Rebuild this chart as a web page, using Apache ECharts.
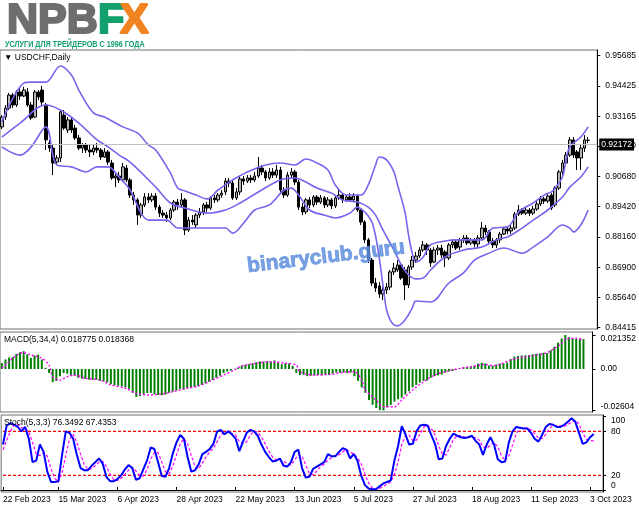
<!DOCTYPE html>
<html>
<head>
<meta charset="utf-8">
<script src="https://cdn.jsdelivr.net/npm/echarts@6/dist/echarts.min.js"></script>
<style>
html,body{margin:0;padding:0;background:#fff}
#chart{width:639px;height:508px}
</style>
</head>
<body>
<div id="chart"></div>
<script>
// USDCHF daily, 22 Feb 2023 .. 4 Oct 2023
var opens = [
  0.9273,0.9314,0.9351,0.9405,0.9364,0.9418,0.9401,0.9418,0.9364,0.9314,
  0.9418,0.9426,0.9364,0.9206,0.9185,0.9127,0.9144,0.9322,0.9260,0.9302,
  0.9268,0.9227,0.9185,0.9198,0.9177,0.9169,0.9185,0.9177,0.9148,0.9169,
  0.9123,0.9061,0.9069,0.9053,0.9102,0.9053,0.8990,0.8970,0.8907,0.8949,
  0.8982,0.8970,0.8986,0.8940,0.8915,0.8907,0.8895,0.8928,0.8961,0.8949,
  0.8970,0.8845,0.8886,0.8866,0.8907,0.8920,0.8949,0.8936,0.8978,0.8970,
  0.8990,0.9003,0.9048,0.9040,0.8978,0.9003,0.9057,0.9048,0.9061,0.9053,
  0.9069,0.9102,0.9086,0.9061,0.9086,0.9073,0.9094,0.9011,0.8990,0.9073,
  0.9086,0.9044,0.8940,0.8920,0.8970,0.8949,0.8982,0.8961,0.8978,0.8949,
  0.8970,0.8945,0.8978,0.8990,0.8970,0.8982,0.8970,0.8986,0.8928,0.8878,
  0.8804,0.8720,0.8625,0.8613,0.8579,0.8596,0.8608,0.8671,0.8679,0.8700,
  0.8679,0.8617,0.8691,0.8720,0.8737,0.8762,0.8783,0.8762,0.8712,0.8762,
  0.8770,0.8754,0.8729,0.8783,0.8795,0.8774,0.8804,0.8812,0.8791,0.8804,
  0.8787,0.8812,0.8853,0.8837,0.8799,0.8783,0.8804,0.8828,0.8849,0.8841,
  0.8853,0.8911,0.8928,0.8915,0.8928,0.8915,0.8932,0.8953,0.8974,0.8965,
  0.8990,0.8949,0.9019,0.9086,0.9123,0.9156,0.9219,0.9169,0.9144,0.9185,
  0.9218
];
var closes = [
  0.9314,0.9351,0.9405,0.9364,0.9418,0.9401,0.9426,0.9364,0.9310,0.9418,
  0.9397,0.9376,0.9219,0.9185,0.9123,0.9144,0.9335,0.9268,0.9302,0.9260,
  0.9227,0.9185,0.9198,0.9177,0.9169,0.9185,0.9177,0.9148,0.9169,0.9127,
  0.9061,0.9069,0.9053,0.9107,0.9053,0.8990,0.8970,0.8907,0.8949,0.8982,
  0.8970,0.8986,0.8940,0.8915,0.8907,0.8895,0.8928,0.8961,0.8949,0.8970,
  0.8845,0.8886,0.8878,0.8907,0.8920,0.8949,0.8936,0.8978,0.8970,0.8990,
  0.8998,0.9048,0.9040,0.8978,0.9003,0.9057,0.9048,0.9061,0.9053,0.9069,
  0.9102,0.9086,0.9061,0.9086,0.9073,0.9094,0.9011,0.8990,0.9073,0.9086,
  0.9044,0.8940,0.8920,0.8970,0.8949,0.8982,0.8961,0.8978,0.8949,0.8970,
  0.8945,0.8978,0.8990,0.8970,0.8982,0.8970,0.8986,0.8928,0.8878,0.8804,
  0.8720,0.8625,0.8604,0.8579,0.8596,0.8608,0.8671,0.8687,0.8700,0.8646,
  0.8617,0.8691,0.8720,0.8737,0.8762,0.8783,0.8762,0.8708,0.8762,0.8770,
  0.8741,0.8729,0.8783,0.8795,0.8770,0.8804,0.8812,0.8791,0.8804,0.8787,
  0.8812,0.8853,0.8837,0.8799,0.8783,0.8804,0.8828,0.8849,0.8841,0.8853,
  0.8911,0.8928,0.8915,0.8928,0.8915,0.8932,0.8953,0.8974,0.8965,0.8986,
  0.8936,0.9019,0.9086,0.9123,0.9156,0.9219,0.9156,0.9144,0.9185,0.9219,
  0.9217
];
var lows = [
  0.9264,0.9302,0.9343,0.9351,0.9356,0.9385,0.9397,0.9356,0.9302,0.9310,
  0.9385,0.9364,0.9177,0.9169,0.9073,0.9115,0.9127,0.9260,0.9248,0.9248,
  0.9219,0.9177,0.9165,0.9165,0.9148,0.9156,0.9165,0.9136,0.9144,0.9115,
  0.9053,0.9023,0.9040,0.9044,0.9044,0.8978,0.8949,0.8866,0.8895,0.8940,
  0.8957,0.8961,0.8928,0.8899,0.8895,0.8878,0.8886,0.8920,0.8928,0.8940,
  0.8824,0.8837,0.8866,0.8853,0.8895,0.8907,0.8920,0.8928,0.8957,0.8961,
  0.8978,0.8990,0.9023,0.8970,0.8970,0.8990,0.9032,0.9040,0.9040,0.9044,
  0.9061,0.9073,0.9048,0.9053,0.9061,0.9061,0.8998,0.8978,0.8982,0.9061,
  0.9032,0.8928,0.8907,0.8911,0.8936,0.8940,0.8949,0.8953,0.8936,0.8940,
  0.8932,0.8936,0.8970,0.8957,0.8961,0.8961,0.8965,0.8920,0.8866,0.8791,
  0.8708,0.8613,0.8588,0.8563,0.8554,0.8579,0.8596,0.8658,0.8671,0.8638,
  0.8554,0.8604,0.8679,0.8708,0.8729,0.8754,0.8741,0.8691,0.8708,0.8741,
  0.8729,0.8691,0.8720,0.8770,0.8762,0.8762,0.8791,0.8783,0.8783,0.8774,
  0.8774,0.8804,0.8824,0.8791,0.8770,0.8770,0.8791,0.8824,0.8828,0.8828,
  0.8845,0.8903,0.8907,0.8907,0.8903,0.8907,0.8924,0.8945,0.8953,0.8957,
  0.8928,0.8940,0.9011,0.9073,0.9115,0.9148,0.9144,0.9094,0.9094,0.9169,
  0.9206
];
var highs = [
  0.9322,0.9364,0.9414,0.9414,0.9426,0.9434,0.9439,0.9434,0.9376,0.9426,
  0.9426,0.9443,0.9372,0.9219,0.9198,0.9156,0.9343,0.9343,0.9314,0.9314,
  0.9281,0.9239,0.9206,0.9206,0.9198,0.9198,0.9206,0.9185,0.9185,0.9177,
  0.9136,0.9086,0.9086,0.9123,0.9115,0.9061,0.9003,0.8978,0.8957,0.8998,
  0.8998,0.8998,0.8998,0.8949,0.8928,0.8920,0.8936,0.8970,0.8974,0.8998,
  0.8978,0.8899,0.8907,0.8915,0.8936,0.8957,0.8961,0.8986,0.8990,0.8998,
  0.9011,0.9061,0.9061,0.9053,0.9019,0.9069,0.9069,0.9073,0.9073,0.9086,
  0.9148,0.9115,0.9094,0.9102,0.9102,0.9115,0.9107,0.9023,0.9086,0.9102,
  0.9094,0.9053,0.8957,0.8978,0.8982,0.8990,0.8990,0.8990,0.8986,0.8982,
  0.8978,0.8990,0.9019,0.8998,0.8990,0.8998,0.8998,0.8990,0.8936,0.8886,
  0.8812,0.8729,0.8646,0.8629,0.8608,0.8625,0.8679,0.8708,0.8720,0.8712,
  0.8691,0.8700,0.8737,0.8754,0.8774,0.8799,0.8791,0.8770,0.8774,0.8783,
  0.8783,0.8762,0.8791,0.8804,0.8804,0.8812,0.8824,0.8824,0.8812,0.8812,
  0.8824,0.8878,0.8866,0.8845,0.8812,0.8812,0.8837,0.8858,0.8858,0.8866,
  0.8920,0.8949,0.8936,0.8940,0.8936,0.8945,0.8965,0.8986,0.8982,0.8994,
  0.8998,0.9027,0.9094,0.9136,0.9169,0.9231,0.9231,0.9177,0.9198,0.9239,
  0.9231
];

// Bollinger bands, [bar index, price]
var bbUpper = [
  [0,0.9293],[6,0.9455],[8,0.9459],[12,0.9459],[16,0.9526],[19,0.9488],[21,0.9426],
  [25,0.9331],[28,0.9314],[33,0.9273],[37,0.9248],[40,0.9198],[42,0.9177],[46,0.9082],
  [48,0.9019],[50,0.9007],[53,0.8990],[56,0.8974],[59,0.9011],[61,0.9032],[63,0.9053],
  [67,0.9086],[72,0.9115],[76,0.9123],[80,0.9115],[83,0.9140],[86,0.9123],[89,0.9094],
  [91,0.9032],[94,0.8990],[98,0.8990],[100,0.9032],[102,0.9115],[103,0.9148],[105,0.9136],
  [107,0.9086],[108,0.9032],[110,0.8920],[111,0.8824],[112,0.8749],[113,0.8712],[115,0.8733],
  [117,0.8783],[121,0.8799],[124,0.8804],[131,0.8804],[134,0.8853],[138,0.8858],[141,0.8920],
  [145,0.8957],[148,0.8990],[150,0.9003],[151,0.9019],[153,0.9065],[154,0.9136],[155,0.9190],
  [158,0.9231],[160,0.9273]
];
var bbMiddle = [
  [0,0.9231],[5,0.9289],[12,0.9364],[16,0.9343],[21,0.9289],[26,0.9219],[29,0.9190],
  [32,0.9156],[35,0.9127],[42,0.9023],[46,0.8957],[50,0.8936],[56,0.8915],[61,0.8928],
  [65,0.8957],[70,0.9003],[76,0.9053],[80,0.9061],[83,0.9044],[86,0.9019],[90,0.8998],
  [93,0.8970],[97,0.8961],[100,0.8940],[102,0.8907],[104,0.8845],[107,0.8762],[109,0.8700],
  [111,0.8658],[113,0.8642],[115,0.8646],[117,0.8679],[121,0.8733],[126,0.8762],[131,0.8774],
  [135,0.8804],[138,0.8816],[142,0.8853],[145,0.8886],[149,0.8928],[153,0.8982],[155,0.9023],
  [158,0.9065],[160,0.9107]
];
var bbLower = [
  [0,0.9190],[5,0.9156],[8,0.9190],[12,0.9273],[15,0.9115],[19,0.9107],[23,0.9086],
  [26,0.9107],[29,0.9107],[32,0.9065],[35,0.9011],[38,0.8915],[40,0.8886],[45,0.8886],
  [48,0.8853],[52,0.8853],[61,0.8853],[63,0.8832],[66,0.8874],[69,0.8928],[73,0.8949],
  [77,0.9011],[79,0.9019],[81,0.8990],[84,0.8928],[88,0.8907],[91,0.8895],[95,0.8915],
  [97,0.8940],[99,0.8920],[100,0.8903],[101,0.8878],[102,0.8820],[103,0.8729],[104,0.8617],
  [105,0.8513],[106,0.8471],[107,0.8451],[108,0.8447],[110,0.8471],[112,0.8521],[113,0.8550],
  [117,0.8546],[122,0.8625],[126,0.8667],[129,0.8720],[133,0.8749],[137,0.8770],[142,0.8749],
  [145,0.8774],[149,0.8816],[153,0.8866],[155,0.8853],[156,0.8837],[158,0.8866],[160,0.8928]
];

// MACD(5,34,4)
var macdHist = [
  0.0038,0.0060,0.0072,0.0075,0.0095,0.0105,0.0112,0.0092,0.0070,0.0085,
  0.0090,0.0060,0.0008,-0.0025,-0.0082,-0.0075,-0.0045,-0.0025,-0.0030,-0.0038,
  -0.0042,-0.0055,-0.0060,-0.0062,-0.0066,-0.0068,-0.0068,-0.0075,-0.0078,-0.0084,
  -0.0095,-0.0102,-0.0105,-0.0110,-0.0115,-0.0125,-0.0150,-0.0176,-0.0170,-0.0158,
  -0.0151,-0.0150,-0.0158,-0.0163,-0.0165,-0.0160,-0.0150,-0.0142,-0.0136,-0.0125,
  -0.0130,-0.0122,-0.0118,-0.0112,-0.0108,-0.0100,-0.0090,-0.0080,-0.0070,-0.0055,
  -0.0042,-0.0025,-0.0015,-0.0010,0.0002,0.0010,0.0022,0.0026,0.0030,0.0036,
  0.0042,0.0048,0.0046,0.0050,0.0048,0.0054,0.0040,0.0030,0.0036,0.0034,
  0.0020,-0.0025,-0.0038,-0.0036,-0.0045,-0.0042,-0.0040,-0.0038,-0.0040,-0.0036,
  -0.0038,-0.0030,-0.0022,-0.0024,-0.0022,-0.0024,-0.0022,-0.0045,-0.0075,-0.0115,
  -0.0150,-0.0195,-0.0225,-0.0245,-0.0258,-0.0260,-0.0240,-0.0225,-0.0205,-0.0190,
  -0.0180,-0.0160,-0.0140,-0.0115,-0.0100,-0.0085,-0.0075,-0.0072,-0.0055,-0.0045,
  -0.0040,-0.0035,-0.0022,-0.0015,-0.0012,-0.0004,0.0004,0.0012,0.0014,0.0016,
  0.0020,0.0034,0.0040,0.0035,0.0022,0.0020,0.0028,0.0034,0.0036,0.0040,
  0.0062,0.0078,0.0082,0.0085,0.0086,0.0088,0.0092,0.0096,0.0098,0.0102,
  0.0100,0.0118,0.0140,0.0165,0.0192,0.0214,0.0200,0.0192,0.0190,0.0192,
  0.018775
];
var macdSignal = [
  [0,0.0004],[1,0.0025],[3,0.0067],[5,0.0099],[6,0.0102],[8,0.0088],[11,0.0067],
  [13,0.0025],[14,-0.0048],[16,-0.0069],[18,-0.0048],[20,-0.0038],[23,-0.0058],[27,-0.0069],
  [30,-0.0100],[34,-0.0121],[37,-0.0153],[40,-0.0163],[44,-0.0157],[47,-0.0143],[51,-0.0121],
  [54,-0.0107],[58,-0.0069],[61,-0.0038],[64,-0.0006],[66,0.0019],[70,0.0036],[74,0.0046],
  [78,0.0036],[81,0.0025],[82,-0.0017],[86,-0.0038],[91,-0.0031],[95,-0.0017],[97,-0.0017],
  [99,-0.0069],[100,-0.0132],[103,-0.0195],[105,-0.0237],[108,-0.0237],[110,-0.0195],[113,-0.0132],
  [116,-0.0080],[119,-0.0038],[123,-0.0011],[126,0.0004],[129,0.0014],[133,0.0029],[135,0.0021],
  [137,0.0029],[140,0.0057],[144,0.0077],[147,0.0088],[150,0.0102],[152,0.0130],[154,0.0161],
  [155,0.0187],[158,0.0193],[160,0.018368]
];

// Stoch(5,3,3)
var stochMain = [
  62,88,91,89,86,80,86,70,38,40,
  62,52,25,11,11,12,48,80,78,70,
  48,30,27,27,33,38,43,36,18,12,
  12,15,20,28,34,30,14,16,28,40,
  58,56,38,19,18,30,50,65,75,70,
  45,25,27,35,49,52,56,63,80,82,
  76,80,76,70,53,66,78,82,80,74,
  62,52,45,39,40,43,33,32,38,52,
  55,30,17,18,29,32,35,38,49,46,
  46,52,57,55,43,49,40,20,7,2,
  1,1,5,9,11,13,40,60,87,76,
  62,63,80,88,89,88,75,63,42,43,
  60,70,77,74,72,71,72,74,67,62,
  48,62,72,62,42,38,39,65,80,86,
  85,84,84,78,70,66,75,86,90,89,
  86,86,89,93,98,93,78,63,65,72,
  76.3492
];
var stochSignal = [
  55,68,80,89,89,85,84,79,65,49,
  47,51,46,29,16,11,24,47,69,76,
  65,49,35,28,29,33,38,39,32,22,
  14,13,16,21,27,31,26,20,19,28,
  42,51,51,38,25,22,33,48,63,70,
  63,47,32,29,37,45,52,57,66,75,
  79,79,77,75,66,63,66,75,80,79,
  72,63,53,45,41,41,39,36,34,41,
  48,46,34,22,21,26,32,35,41,44,
  47,48,52,55,52,49,44,36,22,10,
  3,1,2,5,8,11,21,38,62,74,
  75,67,68,77,86,88,84,75,60,49,
  48,58,69,74,74,72,72,72,71,68,
  59,57,61,65,59,47,40,47,61,77,
  84,85,84,82,77,71,70,76,84,88,
  88,87,87,89,93,95,90,78,69,67,
  67.4353
];
var stochLevels = [20, 80];

// axis tick labels
var priceTicks = [0.95685, 0.94425, 0.93165, 0.91940, 0.90680, 0.89420, 0.88160, 0.86900, 0.85640, 0.84415];
var lastPrice = 0.92172;
var macdTicks = [0.021352, 0, -0.02604];
var macdTickLabels = ['0.021352', '0.00', '-0.02604'];
var stochTicks = [100, 80, 20, 0];
var xTickLabels = ['22 Feb 2023', '15 Mar 2023', '6 Apr 2023', '28 Apr 2023', '22 May 2023', '13 Jun 2023',
  '5 Jul 2023', '27 Jul 2023', '18 Aug 2023', '11 Sep 2023', '3 Oct 2023'];

// trading-day categories (weekdays), two empty slots on the right like MT4's shift
var MONTHS = ['Jan','Feb','Mar','Apr','May','Jun','Jul','Aug','Sep','Oct','Nov','Dec'];
var dates = [];
var d = new Date(Date.UTC(2023, 1, 22));
while (dates.length < closes.length + 2) {
  var wd = d.getUTCDay();
  if (wd !== 0 && wd !== 6) {
    dates.push(d.getUTCDate() + ' ' + MONTHS[d.getUTCMonth()] + ' ' + d.getUTCFullYear());
  }
  d.setUTCDate(d.getUTCDate() + 1);
}

var candles = opens.map(function (o, i) { return [o, closes[i], lows[i], highs[i]]; });

var FONT = '"Liberation Sans", Arial, sans-serif';
var isTick = function (idx, val) { return xTickLabels.indexOf(val) >= 0; };
var bandColor = '#7566ee';
var logoGreen = '#13a06c';

// red dotted level lines of the stochastic, drawn edge to edge
var levelSeries = stochLevels.map(function (v) {
  return {
    name: 'Level ' + v, type: 'line', xAxisIndex: 2, yAxisIndex: 2, z: 2, silent: true,
    data: [[0, v], [dates.length - 1, v]], showSymbol: false,
    lineStyle: { color: '#ff0000', width: 1.3, type: [3, 2] }
  };
});

var chart = echarts.init(document.getElementById('chart'));

var option = {
  animation: false,
  backgroundColor: '#fff',
  textStyle: { fontFamily: FONT },
  grid: [
    { left: 0, right: 36, top: 50, height: 279, show: true, borderColor: '#6e6e6e', borderWidth: 1 },
    { left: 0, right: 36, top: 332, height: 80, show: true, borderColor: '#6e6e6e', borderWidth: 1 },
    { left: 0, right: 36, top: 415, height: 77, show: true, borderColor: '#6e6e6e', borderWidth: 1 }
  ],
  xAxis: [
    { type: 'category', gridIndex: 0, data: dates, boundaryGap: true, show: false },
    { type: 'category', gridIndex: 1, data: dates, boundaryGap: true, show: false },
    {
      type: 'category', gridIndex: 2, data: dates, boundaryGap: true,
      axisLine: { lineStyle: { color: '#000', width: 1 } },
      axisTick: { show: true, interval: isTick, alignWithLabel: true, inside: true, length: 3, lineStyle: { color: '#000' } },
      axisLabel: { interval: isTick, align: 'left', fontSize: 8.5, color: '#000', margin: 3, fontFamily: FONT }
    }
  ],
  yAxis: [
    {
      type: 'value', gridIndex: 0, position: 'right', min: 0.8434, max: 0.95922, scale: true,
      splitLine: { show: false },
      axisLine: { show: true, lineStyle: { color: '#000' } },
      axisTick: { show: true, customValues: priceTicks, length: 3, lineStyle: { color: '#000' } },
      axisLabel: {
        customValues: priceTicks, fontSize: 8.5, color: '#000', margin: 8, fontFamily: FONT,
        formatter: function (v) { return v.toFixed(5); }
      }
    },
    {
      type: 'value', gridIndex: 1, position: 'right', min: -0.0270, max: 0.02324,
      splitLine: { show: false },
      axisLine: { show: true, lineStyle: { color: '#000' } },
      axisTick: { show: true, customValues: macdTicks, length: 3, lineStyle: { color: '#000' } },
      axisLabel: {
        customValues: macdTicks, fontSize: 8.5, color: '#000', margin: 8, fontFamily: FONT,
        formatter: function (v) {
          var k = 0;
          macdTicks.forEach(function (t, j) { if (Math.abs(t - v) < Math.abs(macdTicks[k] - v)) k = j; });
          if (k === 0) return '{t|' + macdTickLabels[k] + '}';
          if (k === macdTicks.length - 1) return '{b|' + macdTickLabels[k] + '}';
          return macdTickLabels[k];
        },
        rich: {
          t: { fontSize: 8.5, fontFamily: FONT, color: '#000', padding: [8, 0, 0, 0] },
          b: { fontSize: 8.5, fontFamily: FONT, color: '#000', padding: [0, 0, 7, 0] }
        }
      }
    },
    {
      type: 'value', gridIndex: 2, position: 'right', min: -2.7, max: 102.3,
      splitLine: { show: false },
      axisLine: { show: true, lineStyle: { color: '#000' } },
      axisTick: { show: true, customValues: stochTicks, length: 3, lineStyle: { color: '#000' } },
      axisLabel: {
        customValues: stochTicks, fontSize: 8.5, color: '#000', margin: 8, fontFamily: FONT,
        formatter: function (v) {
          if (v === 100) return '{t|100}';
          if (v === 0) return '{b|0}';
          return String(v);
        },
        rich: {
          t: { fontSize: 8.5, fontFamily: FONT, color: '#000', padding: [8, 0, 0, 0] },
          b: { fontSize: 8.5, fontFamily: FONT, color: '#000', padding: [0, 0, 8, 0] }
        }
      }
    }
  ],
  series: [
    {
      name: 'USDCHF', type: 'candlestick', xAxisIndex: 0, yAxisIndex: 0, data: candles,
      barWidth: 3,
      itemStyle: { color: '#b5b5b5', color0: '#000', borderColor: '#000', borderColor0: '#000', borderWidth: 1 },
      markLine: {
        silent: true, symbol: 'none', z: 10,
        data: [{ yAxis: lastPrice }],
        lineStyle: { color: '#c0c0c0', type: 'solid', width: 1 },
        label: {
          position: 'end', distance: 2, formatter: lastPrice.toFixed(5),
          backgroundColor: '#000', color: '#fff', fontSize: 8.5, fontFamily: FONT, padding: [2, 2, 1, 2]
        }
      }
    },
    { name: 'BB up', type: 'line', xAxisIndex: 0, yAxisIndex: 0, data: bbUpper, showSymbol: false, smooth: 0.35,
      lineStyle: { color: bandColor, width: 1.6 }, z: 3 },
    { name: 'BB mid', type: 'line', xAxisIndex: 0, yAxisIndex: 0, data: bbMiddle, showSymbol: false, smooth: 0.35,
      lineStyle: { color: bandColor, width: 1.6 }, z: 3 },
    { name: 'BB low', type: 'line', xAxisIndex: 0, yAxisIndex: 0, data: bbLower, showSymbol: false, smooth: 0.35,
      lineStyle: { color: bandColor, width: 1.6 }, z: 3 },
    { name: 'MACD', type: 'bar', xAxisIndex: 1, yAxisIndex: 1, data: macdHist, barWidth: 2,
      itemStyle: { color: '#008000' } },
    { name: 'Signal', type: 'line', xAxisIndex: 1, yAxisIndex: 1, data: macdSignal, showSymbol: false, smooth: 0.3,
      lineStyle: { color: '#ff00ff', width: 1.4, type: [2, 2] } },
    {
      name: 'Stoch', type: 'line', xAxisIndex: 2, yAxisIndex: 2, data: stochMain, showSymbol: false,
      lineStyle: { color: '#0000ff', width: 2 }, z: 4
    },
    { name: 'Stoch signal', type: 'line', xAxisIndex: 2, yAxisIndex: 2, data: stochSignal, showSymbol: false,
      lineStyle: { color: '#ff00ff', width: 1.2, type: [3, 2] }, z: 3 }
  ].concat(levelSeries),
  graphic: [
    { type: 'text', x: 7, y: 21, style: { text: 'NPB', font: 'bold 43px ' + FONT, fill: '#6d6e70', stroke: '#6d6e70', lineWidth: 2.2, textVerticalAlign: 'middle' } },
    { type: 'text', x: 98, y: 21, style: { text: 'F', font: 'bold 43px ' + FONT, fill: logoGreen, stroke: logoGreen, lineWidth: 2.2, textVerticalAlign: 'middle' } },
    { type: 'text', x: 120, y: 21, style: { text: 'X', font: 'bold 43px ' + FONT, fill: '#f08422', stroke: '#f08422', lineWidth: 2.2, textVerticalAlign: 'middle' } },
    { type: 'text', x: 5, y: 44, scaleX: 0.76, style: { text: 'УСЛУГИ ДЛЯ ТРЕЙДЕРОВ С 1996 ГОДА', font: 'bold 9.5px ' + FONT, fill: logoGreen, textVerticalAlign: 'middle' } },
    { type: 'text', x: 4, y: 58, style: { text: '▼ USDCHF,Daily', font: '8.5px ' + FONT, fill: '#000', textVerticalAlign: 'middle' }, z: 20 },
    { type: 'text', x: 4, y: 340, style: { text: 'MACD(5,34,4) 0.018775 0.018368', font: '8.5px ' + FONT, fill: '#000', textVerticalAlign: 'middle' }, z: 20 },
    { type: 'text', x: 4, y: 423, style: { text: 'Stoch(5,3,3) 76.3492 67.4353', font: '8.5px ' + FONT, fill: '#000', textVerticalAlign: 'middle' }, z: 20 },
    { type: 'text', x: 326, y: 257, rotation: 0.12, z: 30,
      style: { text: 'binaryclub.guru', font: 'bold 21px ' + FONT, fill: 'rgba(98,145,222,0.85)', stroke: 'rgba(98,145,222,0.85)', lineWidth: 0.8, textAlign: 'center', textVerticalAlign: 'middle' } }
  ]
};

chart.setOption(option);
</script>
</body>
</html>
